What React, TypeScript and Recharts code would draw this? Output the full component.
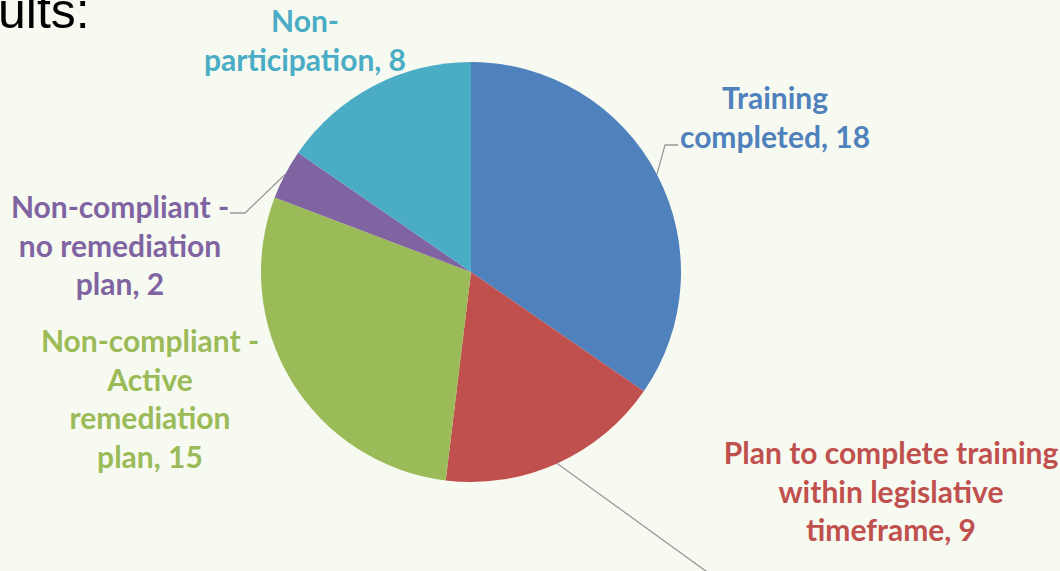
import { PieChart, Pie, Cell } from 'recharts';

const categories = [
  'Training completed',
  'Plan to complete training within legislative timeframe',
  'Non-compliant - Active remediation plan',
  'Non-compliant - no remediation plan',
  'Non-participation',
];
const counts = [18, 9, 15, 2, 8];
const colors = ['#4F81BD', '#C0504D', '#9BBB59', '#8064A2', '#4BACC6'];

// label lines as they wrap in the original
const labelLines = [
  ['Training', 'completed, 18'],
  ['Plan to complete training', 'within legislative', 'timeframe, 9'],
  ['Non-compliant -', 'Active', 'remediation', 'plan, 15'],
  ['Non-compliant -', 'no remediation', 'plan, 2'],
  ['Non-', 'participation, 8'],
];

// label block anchor (first line centre) relative to pie centre
const labelOffsets = [
  { dx: 304, dy: -175 },
  { dx: 420, dy: 180 },
  { dx: -321, dy: 68 },
  { dx: -351, dy: -66 },
  { dx: -166, dy: -252 },
];

// leader line bends, relative to pie centre (null = no leader)
const leaders: (number[][] | null)[] = [
  [[194, -127], [207, -127]],
  [[250, 310]],
  null,
  [[-226, -59], [-241, -59]],
  null,
];

const data = categories.map((name, i) => ({ name, value: counts[i] }));

const CX = 471;
const CY = 272;
const R = 210;
const RAD = Math.PI / 180;
const LINE_H = 38.5;

const renderLabel = (props: any) => {
  const { cx, cy, midAngle, outerRadius, index } = props;
  const off = labelOffsets[index];
  const lines = labelLines[index];
  const lead = leaders[index];
  const sx = cx + outerRadius * Math.cos(-midAngle * RAD);
  const sy = cy + outerRadius * Math.sin(-midAngle * RAD);
  return (
    <g key={`lbl-${index}`}>
      {lead && (
        <polyline
          points={[[sx, sy], ...lead.map(([x, y]) => [cx + x, cy + y])]
            .map((p) => p.join(','))
            .join(' ')}
          fill="none"
          stroke="#9A9A9A"
          strokeWidth={1.3}
        />
      )}
      <text
        x={cx + off.dx}
        y={cy + off.dy}
        textAnchor="middle"
        dominantBaseline="central"
        fill={colors[index]}
        fontFamily="Lato, 'Open Sans', sans-serif"
        fontWeight={700}
        fontSize={30}
      >
        {lines.map((l, j) => (
          <tspan key={j} x={cx + off.dx} dy={j === 0 ? 0 : LINE_H}>
            {l}
          </tspan>
        ))}
      </text>
    </g>
  );
};

export default function App() {
  return (
    <div
      style={{
        position: 'absolute',
        left: 0,
        top: 0,
        width: 1060,
        height: 571,
        background: '#F7FAF1',
        overflow: 'hidden',
      }}
    >
      <div
        style={{
          position: 'absolute',
          left: -2,
          top: -17,
          fontFamily: "'Liberation Sans', Arial, sans-serif",
          fontSize: 50,
          color: '#000',
          lineHeight: '56px',
        }}
      >
        ults:
      </div>
      <PieChart
        width={1060}
        height={571}
        margin={{ top: 0, right: 0, bottom: 0, left: 0 }}
        style={{ position: 'absolute', left: 0, top: 0 }}
      >
        <Pie
          data={data}
          dataKey="value"
          nameKey="name"
          cx={CX}
          cy={CY}
          outerRadius={R}
          startAngle={90}
          endAngle={-270}
          stroke="none"
          label={renderLabel}
          labelLine={false}
          isAnimationActive={false}
        >
          {data.map((d, i) => (
            <Cell key={d.name} fill={colors[i]} />
          ))}
        </Pie>
      </PieChart>
    </div>
  );
}
